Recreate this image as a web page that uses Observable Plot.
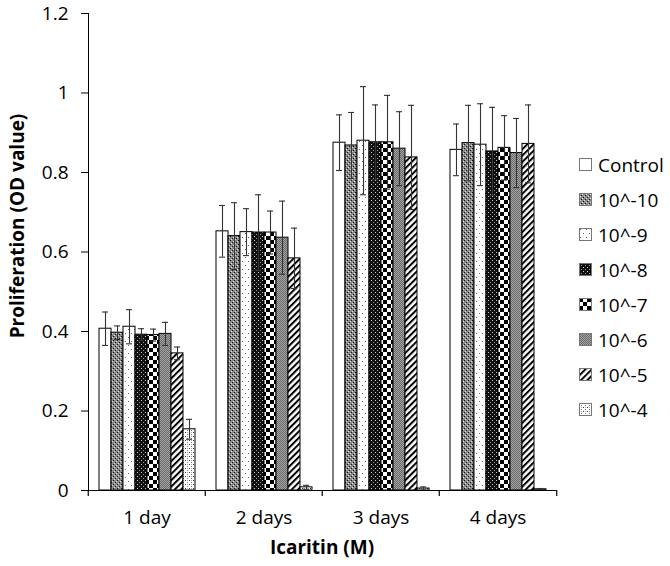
<!DOCTYPE html>
<html>
<head>
<meta charset="utf-8">
<script src="https://cdn.jsdelivr.net/npm/d3@7"></script>
<script src="https://cdn.jsdelivr.net/npm/@observablehq/plot@0.6"></script>
<style>
  html, body { margin: 0; padding: 0; background: #fff; }
  #wrap { position: relative; width: 670px; height: 566px; font-family: 'Open Sans', sans-serif; color: #000; }
  #chart { position: absolute; left: 0; top: 0; }
  #legend { position: absolute; left: 579px; top: 147px; }
  .row { display: flex; align-items: center; height: 35px; font-size: 19px; }
  .row svg { margin-right: 6px; }
  #xlabel { position: absolute; left: 222px; width: 200px; top: 534px; text-align: center; font-weight: bold; font-size: 19px; }
  #ylabel { position: absolute; left: 17px; top: 226px; transform: translate(-50%, -50%) rotate(-90deg); white-space: nowrap; font-weight: bold; font-size: 19px; }
</style>
</head>
<body>
<div id="wrap">
  <div id="chart"></div>
  <div id="legend"></div>
  <div id="xlabel">Icaritin (M)</div>
  <div id="ylabel">Proliferation (OD value)</div>
</div>
<script>
// ---- data ----
const days = ["1 day", "2 days", "3 days", "4 days"];
const series = ["Control", "10^-10", "10^-9", "10^-8", "10^-7", "10^-6", "10^-5", "10^-4"];
const yTicks = [0, 0.2, 0.4, 0.6, 0.8, 1, 1.2];

const day1Mean = [0.407, 0.397, 0.412, 0.392, 0.391, 0.394, 0.345, 0.154];
const day1Err  = [0.042, 0.017, 0.043, 0.015, 0.015, 0.029, 0.016, 0.025];
const day2Mean = [0.652, 0.640, 0.650, 0.649, 0.649, 0.636, 0.584, 0.008];
const day2Err  = [0.065, 0.084, 0.059, 0.095, 0.054, 0.092, 0.076, 0.005];
const day3Mean = [0.875, 0.868, 0.880, 0.876, 0.876, 0.860, 0.838, 0.005];
const day3Err  = [0.070, 0.083, 0.136, 0.094, 0.118, 0.093, 0.131, 0.004];
const day4Mean = [0.857, 0.874, 0.870, 0.853, 0.862, 0.849, 0.872, 0.003];
const day4Err  = [0.065, 0.095, 0.103, 0.111, 0.081, 0.087, 0.098, 0.002];

const means = [day1Mean, day2Mean, day3Mean, day4Mean];
const errs = [day1Err, day2Err, day3Err, day4Err];
const table = days.flatMap((day, i) => series.map((s, j) => ({
  day, series: s, mean: means[i][j], err: errs[i][j]
})));

// ---- fill patterns ----
const patternIds = ["pCtl", "p10", "p9", "p8", "p7", "p6", "p5", "p4"];
const patternUrls = patternIds.map(id => `url(#${id})`);
const defsString = `
<defs>
  <pattern id="pCtl" width="4" height="4" patternUnits="userSpaceOnUse">
    <rect width="4" height="4" fill="#fff"/>
  </pattern>
  <pattern id="p10" width="4" height="4" patternUnits="userSpaceOnUse">
    <rect width="4" height="4" fill="#8a8a8a"/>
    <rect x="0" y="0" width="1" height="1" fill="#111"/>
    <rect x="2" y="2" width="1" height="1" fill="#111"/>
    <rect x="1" y="3" width="1" height="1" fill="#ddd"/>
    <rect x="3" y="1" width="1" height="1" fill="#ddd"/>
  </pattern>
  <pattern id="p9" width="6" height="8" patternUnits="userSpaceOnUse">
    <rect width="6" height="8" fill="#fff"/>
    <rect x="1" y="1" width="1" height="1" fill="#666"/>
    <rect x="4" y="5" width="1" height="1" fill="#666"/>
  </pattern>
  <pattern id="p8" width="4" height="4" patternUnits="userSpaceOnUse">
    <rect width="4" height="4" fill="#111"/>
    <rect x="0" y="0" width="1" height="1" fill="#ccc"/>
    <rect x="2" y="2" width="1" height="1" fill="#999"/>
  </pattern>
  <pattern id="p7" width="8" height="8" patternUnits="userSpaceOnUse">
    <rect width="8" height="8" fill="#fff"/>
    <rect x="0" y="0" width="4" height="4" fill="#000"/>
    <rect x="4" y="4" width="4" height="4" fill="#000"/>
  </pattern>
  <pattern id="p6" width="2" height="2" patternUnits="userSpaceOnUse">
    <rect width="2" height="2" fill="#a4a4a4"/>
    <rect x="0" y="0" width="1" height="1" fill="#6a6a6a"/>
    <rect x="1" y="1" width="1" height="1" fill="#6a6a6a"/>
  </pattern>
  <pattern id="p5" width="4.5" height="6" patternUnits="userSpaceOnUse" patternTransform="rotate(45)">
    <rect width="4.5" height="6" fill="#fff"/>
    <rect x="0" y="0" width="2" height="6" fill="#000"/>
  </pattern>
  <pattern id="p4" width="4" height="4" patternUnits="userSpaceOnUse">
    <rect width="4" height="4" fill="#fff"/>
    <rect x="0" y="0" width="1" height="1" fill="#333"/>
    <rect x="2" y="2" width="1" height="1" fill="#777"/>
    <rect x="2" y="0" width="1" height="1" fill="#aaa"/>
  </pattern>
</defs>`;

// ---- layout ----
const W = 575, H = 566;
const mLeft = 87, mRight = 18, mTop = 13, mBottom = 76;
const halfStep = (W - mLeft - mRight) / days.length / 2;

const chart = Plot.plot({
  width: W,
  height: H,
  marginLeft: mLeft,
  marginRight: mRight,
  marginTop: mTop,
  marginBottom: mBottom,
  style: { fontFamily: "'Open Sans', sans-serif", fontSize: "19px", color: "#000", background: "transparent", overflow: "visible" },
  fx: { domain: days, padding: 0, axis: null, label: null },
  x: { domain: series, paddingInner: 0, paddingOuter: 0.8, axis: null },
  y: { domain: [0, 1.2], ticks: yTicks, tickFormat: d => String(+d.toFixed(1)), tickSize: 7, tickPadding: 13, line: true, label: null },
  color: { type: "ordinal", domain: series, range: patternUrls },
  marks: [
    Plot.barY(table, { fx: "day", x: "series", y: "mean", fill: "series", stroke: "#000", strokeWidth: 1 }),
    Plot.ruleX(table, { fx: "day", x: "series", y1: d => d.mean - d.err, y2: d => d.mean + d.err, stroke: "#333", strokeWidth: 1.1 }),
    Plot.tickY(table, { fx: "day", x: "series", y: d => d.mean + d.err, stroke: "#333", strokeWidth: 1.1, insetLeft: 3, insetRight: 3 }),
    Plot.tickY(table, { fx: "day", x: "series", y: d => d.mean - d.err, stroke: "#333", strokeWidth: 1.1, insetLeft: 3, insetRight: 3 }),
    Plot.ruleY([0], { stroke: "#000", strokeWidth: 1.2 }),
    Plot.axisFx({ anchor: "bottom", tickSize: 0, tickPadding: 20, label: null }),
    Plot.axisFx({ anchor: "bottom", tickSize: 6, tickFormat: () => "", dx: -halfStep, label: null, strokeWidth: 1.2 }),
    Plot.axisFx({ anchor: "bottom", ticks: [days[days.length - 1]], tickSize: 6, tickFormat: () => "", dx: halfStep, label: null, strokeWidth: 1.2 })
  ]
});

const g = document.createElementNS("http://www.w3.org/2000/svg", "g");
g.innerHTML = defsString;
chart.prepend(g);
document.getElementById("chart").appendChild(chart);

// ---- legend ----
const legend = document.getElementById("legend");
series.forEach((s, j) => {
  const row = document.createElement("div");
  row.className = "row";
  row.innerHTML = `<svg width="13" height="13"><rect x="0.5" y="0.5" width="12" height="12" fill="${patternUrls[j]}" stroke="#777" stroke-width="1"/></svg><span>${s}</span>`;
  legend.appendChild(row);
});
</script>
</body>
</html>
